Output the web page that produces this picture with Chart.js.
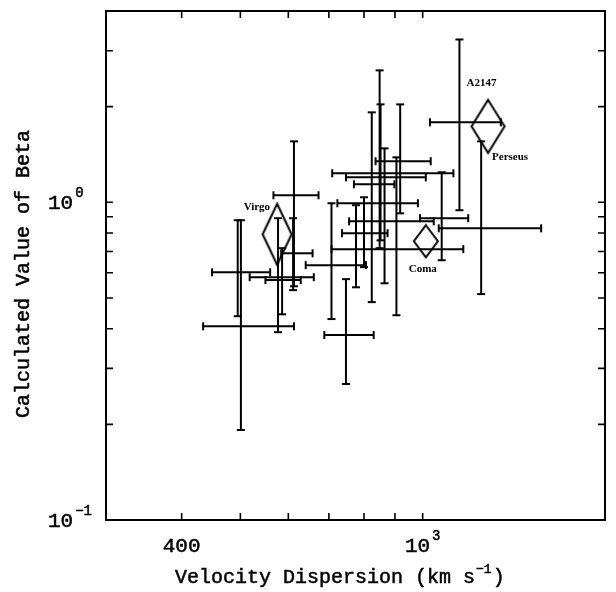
<!DOCTYPE html>
<html>
<head>
<meta charset="utf-8">
<script src="https://cdn.jsdelivr.net/npm/chart.js@4.4.1/dist/chart.umd.min.js"></script>
<style>
body { margin: 0; background: #fff; }
</style>
</head>
<body>
<canvas id="grafico" width="616" height="592"></canvas>
<script>
// aglomerados (x = dispersao de velocidade, y = beta)
const sigma = [1150, 1249, 1075, 918, 852, 849, 824, 613, 865, 905, 800, 776, 611, 707, 586, 577, 495, 501, 747];
const beta = [1.785, 0.828, 0.891, 1.346, 1.234, 1.198, 1.139, 1.052, 0.993, 0.871, 0.799, 0.712, 0.691, 0.634, 0.581, 0.569, 0.602, 0.407, 0.382];
const sigmaMin = [1028, 1063, 990, 836, 709, 747, 770, 567, 723, 756, 736, 707, 584, 641, 518, 550, 449, 434, 688];
const sigmaMax = [1346, 1569, 1189, 1031, 1124, 1012, 898, 673, 982, 1043, 875, 1167, 658, 806, 661, 629, 560, 613, 830];
const betaMin = [0.944, 0.514, 0.657, 0.923, 0.759, 0.717, 0.485, 0.544, 0.556, 0.441, 0.625, 0.540, 0.529, 0.429, 0.444, 0.390, 0.438, 0.192, 0.268];
const betaMax = [3.254, 1.555, 1.243, 2.033, 2.033, 2.601, 1.919, 1.555, 1.478, 1.385, 1.037, 0.979, 0.891, 0.993, 0.717, 0.891, 0.878, 0.878, 0.573];

// aglomerados com losango
const nomes = ["Virgo", "Coma", "Perseus"];
const nomesSigma = [575, 1012, 1282];
const nomesBeta = [0.793, 0.754, 1.734];

// eixos
const xTicks = [400, 500, 600, 700, 800, 900, 1000];
const yTicks = [0.2, 0.3, 0.4, 0.5, 0.6, 0.7, 0.8, 0.9, 1, 2, 3];
const xLabels = [[400, "400", ""], [1000, "10", "3"]];
const yLabels = [[0.1, "10", "\u22121"], [1, "10", "0"]];

// losangos desenhados num canvas e usados como pointStyle
function losango(w, h) {
    const c = document.createElement("canvas");
    c.width = w + 4; c.height = h + 4;
    const g = c.getContext("2d");
    g.strokeStyle = "#000";
    g.lineWidth = 2;
    g.lineJoin = "miter";
    g.beginPath();
    g.moveTo(c.width / 2, 2);
    g.lineTo(c.width - 2, c.height / 2);
    g.lineTo(c.width / 2, c.height - 2);
    g.lineTo(2, c.height / 2);
    g.closePath();
    g.stroke();
    return c;
}
const formas = [losango(29, 61), losango(24, 32), losango(33, 53)];

const datasets = [];
sigma.forEach((s, i) => {
    datasets.push({
        data: [{ x: sigmaMin[i], y: beta[i] }, { x: sigmaMax[i], y: beta[i] }],
        pointRotation: 90
    });
    datasets.push({
        data: [{ x: s, y: betaMin[i] }, { x: s, y: betaMax[i] }],
        pointRotation: 0
    });
});
datasets.forEach(d => {
    d.type = "line";
    d.borderColor = "#000";
    d.borderWidth = 2;
    d.pointStyle = "line";
    d.pointRadius = 4;
    d.pointBorderColor = "#000";
    d.pointBorderWidth = 2;
});
datasets.push({
    type: "scatter",
    data: nomes.map((n, i) => ({ x: nomesSigma[i], y: nomesBeta[i] })),
    pointStyle: formas,
    pointRadius: 10
});

function texto(ctx, t, x, y) {
    ctx.fillText(t, x, y);
    ctx.strokeText(t, x, y);
}

function potencia(ctx, base, exp, x, y, align) {
    ctx.font = "21px 'Liberation Mono'";
    const wb = ctx.measureText(base).width;
    ctx.font = "14px 'Liberation Mono'";
    const we = exp ? ctx.measureText(exp).width + 2 : 0;
    let x0 = x;
    if (align === "center") x0 = x - (wb + we) / 2;
    ctx.textAlign = "left";
    ctx.font = "21px 'Liberation Mono'";
    texto(ctx, base, x0, y);
    if (exp) {
        ctx.font = "14px 'Liberation Mono'";
        texto(ctx, exp, x0 + wb + 2, y - 10);
    }
}

const eixos = {
    id: "eixos",
    afterDatasetsDraw(chart) {
        const { ctx, chartArea: a, scales: { x, y } } = chart;
        ctx.save();
        ctx.strokeStyle = "#000";
        ctx.fillStyle = "#000";
        ctx.lineWidth = 2;
        ctx.strokeRect(a.left, a.top, a.right - a.left, a.bottom - a.top);
        ctx.lineWidth = 1.6;
        ctx.beginPath();
        xTicks.forEach(v => {
            const px = x.getPixelForValue(v);
            ctx.moveTo(px, a.bottom); ctx.lineTo(px, a.bottom - 7);
            ctx.moveTo(px, a.top); ctx.lineTo(px, a.top + 7);
        });
        yTicks.forEach(v => {
            const py = y.getPixelForValue(v);
            ctx.moveTo(a.left, py); ctx.lineTo(a.left + 7, py);
            ctx.moveTo(a.right, py); ctx.lineTo(a.right - 7, py);
        });
        ctx.stroke();

        ctx.lineWidth = 0.5;
        ctx.textBaseline = "middle";
        xLabels.forEach(([v, b, e]) => potencia(ctx, b, e, x.getPixelForValue(v), a.bottom + 26, "center"));
        yLabels.forEach(([v, b, e]) => potencia(ctx, b, e, a.left - 58, y.getPixelForValue(v) + 1, "left"));

        // titulos
        ctx.font = "20px 'Liberation Mono'";
        const t1 = "Velocity Dispersion (km s";
        const w1 = ctx.measureText(t1).width;
        const x0 = 175;
        ctx.textAlign = "left";
        texto(ctx, t1, x0, 578);
        ctx.font = "13px 'Liberation Mono'";
        texto(ctx, "\u22121", x0 + w1 + 1, 570);
        const w2 = ctx.measureText("\u22121").width;
        ctx.font = "20px 'Liberation Mono'";
        texto(ctx, ")", x0 + w1 + w2 + 2, 578);

        ctx.save();
        ctx.translate(24, 274);
        ctx.rotate(-Math.PI / 2);
        ctx.textAlign = "center";
        texto(ctx, "Calculated Value of Beta", 0, 0);
        ctx.restore();

        // nomes
        ctx.font = "bold 11px 'Liberation Serif'";
        const px = i => x.getPixelForValue(nomesSigma[i]);
        const py = i => y.getPixelForValue(nomesBeta[i]);
        ctx.textAlign = "right";
        ctx.fillText("Virgo", px(0) - 7, py(0) - 27);
        ctx.textAlign = "center";
        ctx.fillText("Coma", px(1) - 3, py(1) + 28);
        ctx.textAlign = "left";
        ctx.fillText("Perseus", px(2) + 4, py(2) + 31);
        ctx.fillText("A2147", x.getPixelForValue(sigma[0]) + 7, y.getPixelForValue(beta[0]) - 39);
        ctx.restore();
    }
};

new Chart(document.getElementById("grafico"), {
    type: "line",
    data: { datasets },
    options: {
        responsive: false,
        animation: false,
        layout: { padding: { left: 106, right: 6, top: 10, bottom: 72 } },
        plugins: { legend: { display: false }, tooltip: { enabled: false } },
        scales: {
            x: { type: "logarithmic", min: 300, max: 2000, display: false },
            y: { type: "logarithmic", min: 0.1, max: 4, display: false }
        }
    },
    plugins: [eixos]
});
</script>
</body>
</html>
